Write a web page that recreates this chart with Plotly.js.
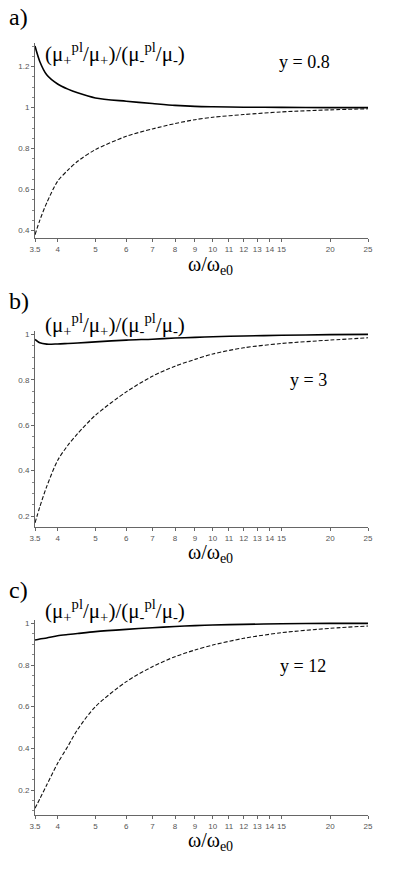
<!DOCTYPE html>
<html>
<head>
<meta charset="utf-8">
<script src="https://cdn.plot.ly/plotly-3.0.1.min.js"></script>
<style>html,body{margin:0;padding:0;background:#fff;}#chart{width:399px;height:871px;}</style>
</head>
<body>
<div id="chart"></div>
<script>
// ---- data ----
const omega = [3.5, 3.6, 3.75, 4, 4.25, 4.5, 5, 6, 7, 8, 9, 10, 12, 15, 20, 25];

const aUpper = [1.30, 1.225, 1.160, 1.115, 1.090, 1.072, 1.047, 1.031, 1.020, 1.011, 1.006, 1.004, 1.002, 1.001, 1.000, 1.000];
const aLower = [0.38, 0.45, 0.535, 0.641, 0.695, 0.738, 0.795, 0.860, 0.896, 0.922, 0.941, 0.953, 0.966, 0.979, 0.989, 0.994];

const bUpper = [0.978, 0.963, 0.957, 0.958, 0.960, 0.962, 0.967, 0.975, 0.979, 0.984, 0.987, 0.990, 0.993, 0.996, 0.999, 1.000];
const bLower = [0.17, 0.24, 0.33, 0.445, 0.512, 0.563, 0.644, 0.747, 0.816, 0.860, 0.890, 0.914, 0.941, 0.960, 0.975, 0.985];

const cUpper = [0.920, 0.925, 0.930, 0.940, 0.946, 0.951, 0.960, 0.971, 0.979, 0.985, 0.989, 0.992, 0.995, 0.998, 1.000, 1.000];
const cLower = [0.112, 0.157, 0.224, 0.328, 0.41, 0.490, 0.600, 0.720, 0.792, 0.840, 0.872, 0.896, 0.928, 0.955, 0.976, 0.987];

const xTickVals = [3.5, 4, 5, 6, 7, 8, 9, 10, 11, 12, 13, 14, 15, 20, 25];
const xTickText = ["3.5", "4", "5", "6", "7", "8", "9", "10", "11", "12", "13", "14", "15", "20", "25"];

const aYTickVals = [0.4, 0.6, 0.8, 1, 1.2];
const aYTickText = ["0.4", "0.6", "0.8", "1", "1.2"];
const bcYTickVals = [0.2, 0.4, 0.6, 0.8, 1];
const bcYTickText = ["0.2", "0.4", "0.6", "0.8", "1"];

const panelLabels = ["a)", "b)", "c)"];
const yLabels = ["y = 0.8", "y = 3", "y = 12"];
const ratioTitle = "(μ<sub>+</sub><sup>pl</sup>/μ<sub>+</sub>)/(μ<sub>-</sub><sup>pl</sup>/μ<sub>-</sub>)";
const xTitle = "ω/ω<sub>e0</sub>";

// ---- layout helpers ----
const H = 871, W = 399;
const py = p => 1 - p / H;
const px = p => p / W;

const solid = {color: "#000", width: 1.6, shape: "spline", smoothing: 0.8};
const dashed = {color: "#111", width: 1.1, dash: "4px,2px", shape: "spline", smoothing: 0.8};

const traces = [
  {x: omega, y: aUpper, xaxis: "x", yaxis: "y", mode: "lines", line: solid},
  {x: omega, y: aLower, xaxis: "x", yaxis: "y", mode: "lines", line: dashed},
  {x: omega, y: bUpper, xaxis: "x2", yaxis: "y2", mode: "lines", line: solid},
  {x: omega, y: bLower, xaxis: "x2", yaxis: "y2", mode: "lines", line: dashed},
  {x: omega, y: cUpper, xaxis: "x3", yaxis: "y3", mode: "lines", line: solid},
  {x: omega, y: cLower, xaxis: "x3", yaxis: "y3", mode: "lines", line: dashed}
];

const tickFont = {family: "Liberation Sans, Arial, sans-serif", size: 8, color: "#555"};
function xAx(anchor) {
  return {
    type: "log", range: [Math.log10(3.5), Math.log10(25)], domain: [px(35), px(368)],
    anchor: anchor, tickmode: "array", tickvals: xTickVals, ticktext: xTickText,
    showgrid: false, zeroline: false, showline: true, linecolor: "#666", linewidth: 1,
    ticks: "outside", ticklen: 3, tickcolor: "#666", tickfont: tickFont, ticklabelstandoff: 0
  };
}
function yAx(anchor, range, dom, vals, text) {
  return {
    range: range, domain: dom, anchor: anchor, tickmode: "array", tickvals: vals, ticktext: text,
    showgrid: false, zeroline: false, showline: true, linecolor: "#666", linewidth: 1,
    ticks: "outside", ticklen: 3, tickcolor: "#666", tickfont: tickFont,
    minor: {dtick: 0.05, ticks: "outside", ticklen: 2, tickcolor: "#888", showgrid: false}
  };
}

const serif = "Liberation Serif, Times New Roman, serif";
const annotations = [];
const labelY = [17, 301, 590];
const titleY = [53, 324, 610];
const yLabY = [62, 380, 666];
const xTitleY = [265, 553, 841];
const yLabX = [277, 288, 278];
for (let i = 0; i < 3; i++) {
  annotations.push({xref: "paper", yref: "paper", x: px(7), y: py(labelY[i]), xanchor: "left", yanchor: "middle",
    text: panelLabels[i], showarrow: false, font: {family: serif, size: 24, color: "#000"}});
  annotations.push({xref: "paper", yref: "paper", x: px(43), y: py(titleY[i]), xanchor: "left", yanchor: "middle",
    text: ratioTitle, showarrow: false, font: {family: serif, size: 21, color: "#000"}});
  annotations.push({xref: "paper", yref: "paper", x: px(yLabX[i]), y: py(yLabY[i]), xanchor: "left", yanchor: "middle",
    text: yLabels[i], showarrow: false, font: {family: serif, size: 18, color: "#000"}});
  annotations.push({xref: "paper", yref: "paper", x: px(210), y: py(xTitleY[i]), xanchor: "center", yanchor: "middle",
    text: xTitle, showarrow: false, font: {family: serif, size: 20, color: "#000"}});
}

const layout = {
  width: W, height: H, margin: {l: 0, r: 0, t: 0, b: 0},
  paper_bgcolor: "#fff", plot_bgcolor: "#fff", showlegend: false,
  xaxis: xAx("y"), xaxis2: xAx("y2"), xaxis3: xAx("y3"),
  yaxis: yAx("x", [0.364, 1.315], [py(238), py(43)], aYTickVals, aYTickText),
  yaxis2: yAx("x2", [0.152, 1.015], [py(527), py(331)], bcYTickVals, bcYTickText),
  yaxis3: yAx("x3", [0.08, 1.016], [py(815), py(620)], bcYTickVals, bcYTickText),
  annotations: annotations
};

Plotly.newPlot("chart", traces, layout, {staticPlot: true, displayModeBar: false});
</script>
</body>
</html>
